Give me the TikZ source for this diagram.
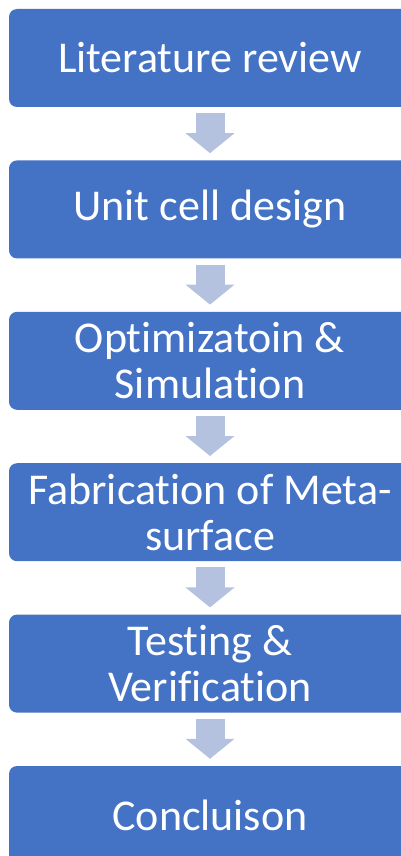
\documentclass[tikz,border=0pt]{standalone}
\usepackage{fontspec}
\setmainfont[Ligatures=NoCommon]{Carlito}
\usetikzlibrary{positioning,arrows.meta}
\definecolor{boxblue}{RGB}{68,114,196}
\definecolor{arrowblue}{RGB}{180,194,224}

\tikzset{
  stage/.style={fill=boxblue, rounded corners=8pt, text=white, align=center,
    minimum width=402pt, minimum height=98pt, inner sep=2pt,
    font=\fontsize{44}{46}\selectfont},
  flow/.style={arrowblue, line width=29pt, shorten <=6pt, shorten >=7pt,
    -{Triangle[width=48pt,length=20pt]}}
}

\begin{document}
\begin{tikzpicture}[x=1pt,y=1pt]
\useasboundingbox (0,0) rectangle (401,-856);
\node [stage] (review) at (210,-58) {Literature review};
\node [stage, below=53pt of review] (cell) {Unit cell design};
\node [stage, below=53pt of cell] (optim) {Optimizatoin \&\\Simulation};
\node [stage, below=53pt of optim] (fab) {Fabrication of Meta-\\surface};
\node [stage, below=53pt of fab] (test) {Testing \&\\Verification};
\node [stage, below=53pt of test] (concl) {Concluison};
% arrows between the stages
\foreach \a/\b in {review/cell, cell/optim, optim/fab, fab/test, test/concl}
  \draw [flow] (\a.south) -- (\b.north);
\end{tikzpicture}
\end{document}
